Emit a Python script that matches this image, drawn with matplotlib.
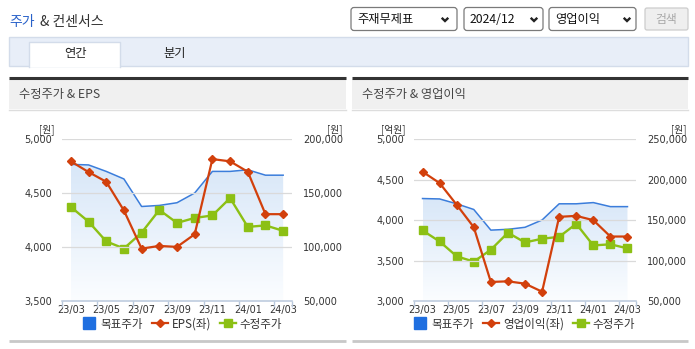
import matplotlib
matplotlib.use('Agg')
import matplotlib.pyplot as plt
import numpy as np
from matplotlib.patches import Rectangle, FancyBboxPatch, PathPatch
from matplotlib.path import Path
from matplotlib.lines import Line2D
from matplotlib.colors import LinearSegmentedColormap

plt.rcParams['font.family'] = ['Noto Sans CJK KR', 'DejaVu Sans']

# ---------------- data ----------------
months = ['23/03', '23/04', '23/05', '23/06', '23/07', '23/08', '23/09',
          '23/10', '23/11', '23/12', '24/01', '24/02', '24/03']
tick_labels = ['23/03', '23/05', '23/07', '23/09', '23/11', '24/01', '24/03']
target_price = [176500, 176000, 170000, 163000, 137500, 138500, 141000,
                150000, 170000, 170000, 171500, 166500, 166500]
adj_price = [137100, 123500, 105200, 98600, 113300, 134300, 122300,
             126900, 129200, 145300, 118600, 120000, 115000]
eps = [4793, 4694, 4604, 4338, 3985, 4010, 4001, 4118, 4814, 4793, 4697, 4304, 4304]
op_profit = [4596, 4456, 4188, 3911, 3235, 3243, 3214, 3115, 4039, 4051, 3998, 3796, 3796]

left_ticks_eps = [3500, 4000, 4500, 5000]
right_ticks_eps = [50000, 100000, 150000, 200000]
left_ticks_op = [3000, 3500, 4000, 4500, 5000]
right_ticks_op = [50000, 100000, 150000, 200000, 250000]

# ---------------- styles ----------------
W, H = 695, 349
C_BLUE = '#3b7ddb'
C_BLUE_SQ = '#1f6fe0'
C_RED = '#d2400c'
C_GREEN = '#8cc014'
C_TXT = '#333333'
NARROW = ['Liberation Sans Narrow', 'DejaVu Sans']

fig = plt.figure(figsize=(W / 100, H / 100), dpi=100)
bg = fig.add_axes([0, 0, 1, 1])
bg.set_xlim(0, W)
bg.set_ylim(H, 0)
bg.axis('off')


def ax_rect(x0, y0, x1, y1):
    return [x0 / W, 1 - y1 / H, (x1 - x0) / W, (y1 - y0) / H]


# ---------------- header ----------------
bg.text(9, 22, '주가', color='#2a62c9', fontsize=10, va='center', ha='left')
bg.text(40, 22, '& 컨센서스', color=C_TXT, fontsize=10, va='center', ha='left')


def dropdown(x0, x1, label, chev_x):
    bg.add_patch(FancyBboxPatch((x0, 7.5), x1 - x0, 23, boxstyle='round,pad=0,rounding_size=3',
                                facecolor='white', edgecolor='#7a7a7a', lw=0.9))
    bg.text(x0 + 6, 19.5, label, fontsize=8.8, color='#111111', va='center', ha='left')
    bg.plot([chev_x - 3.3, chev_x, chev_x + 3.3], [17.8, 21, 17.8], color='#222222', lw=1.7,
            solid_capstyle='butt', solid_joinstyle='miter')


dropdown(351, 457, '주재무제표', 445)
dropdown(464, 543, '2024/12', 534)
dropdown(549, 636, '영업이익', 627)
bg.add_patch(FancyBboxPatch((645, 8), 43, 22, boxstyle='round,pad=0,rounding_size=2',
                            facecolor='#efefef', edgecolor='#cccccc', lw=0.9))
bg.text(666.5, 19.5, '검색', fontsize=8.5, color='#a8a8a8', va='center', ha='center')

# tab bar
bg.add_patch(Rectangle((9, 37), 679, 29, facecolor='#e8eef8', edgecolor='#d3dcea', lw=1))
bg.add_patch(Rectangle((29, 42), 91, 25, facecolor='white', edgecolor='none'))
bg.plot([29, 29, 120, 120], [66.5, 42, 42, 66.5], color='#d3dcea', lw=1)
bg.text(75, 54, '연간', fontsize=8.8, color='#222222', va='center', ha='center')
bg.text(175, 54, '분기', fontsize=8.8, color='#222222', va='center', ha='center')

# panel headers
for (px0, px1, title) in [(9, 346, '수정주가 & EPS'), (352, 688, '수정주가 & 영업이익')]:
    bg.add_patch(Rectangle((px0, 79), px1 - px0, 30, facecolor='#f0f0f0', edgecolor='none'))
    bg.plot([px0, px1], [78, 78], color='#333333', lw=2.2, solid_capstyle='butt')
    bg.plot([px0, px1], [109.5, 109.5], color='#dddddd', lw=1)
    bg.text(px0 + 10, 94.5, title, fontsize=8.8, color='#444444', va='center', ha='left')
    bg.plot([px0, px1], [341, 341], color='#c8c8c8', lw=2, solid_capstyle='butt')

# ---------------- charts ----------------
grad_cmap = LinearSegmentedColormap.from_list('g', ['#fbfdff', '#d8e7f8'])


def draw_chart(rect, left_vals, left_ticks, right_ticks, left_name, unit_l, unit_r,
               unit_l_x, unit_r_x, leg_cx):
    x = np.arange(len(months))
    ax = fig.add_axes(ax_rect(*rect))
    ax2 = ax.twinx()
    ax.set_zorder(ax2.get_zorder() + 1)
    ax.patch.set_visible(False)
    ax2.patch.set_visible(False)

    ax.set_xlim(-0.5, len(months) - 0.5)
    ax.set_ylim(left_ticks[0], left_ticks[-1])
    ax2.set_ylim(right_ticks[0], right_ticks[-1])

    # gradient fill under target price
    ymin = right_ticks[0]
    verts = [(x[0], ymin)] + list(zip(x, target_price)) + [(x[-1], ymin), (x[0], ymin)]
    clip = PathPatch(Path(verts), facecolor='none', edgecolor='none', transform=ax2.transData)
    ax2.add_patch(clip)
    grad = np.linspace(0, 1, 256).reshape(-1, 1)
    im = ax2.imshow(grad, extent=[x[0], x[-1], ymin, max(target_price)], origin='lower',
                    aspect='auto', cmap=grad_cmap, zorder=1)
    im.set_clip_path(clip)
    ax.set_xlim(-0.5, len(months) - 0.5)
    ax2.set_ylim(right_ticks[0], right_ticks[-1])

    ax2.plot(x, target_price, color=C_BLUE, lw=1.1, zorder=3)
    ax2.plot(x, adj_price, color=C_GREEN, lw=1.7, marker='s', markersize=6.3, zorder=4)
    ax.plot(x, left_vals, color=C_RED, lw=1.6, marker='D', markersize=4.3, zorder=5)

    # grid
    for t in left_ticks[1:]:
        ax.axhline(t, color='#dadada', lw=0.9, zorder=0.5)

    for a in (ax, ax2):
        for s in ('top', 'left', 'right', 'bottom'):
            a.spines[s].set_visible(False)
    ax.spines['bottom'].set_visible(True)
    ax.spines['bottom'].set_color('#b9c8dc')
    ax.spines['bottom'].set_linewidth(1.1)

    ax.set_xticks(np.arange(0, len(months), 2))
    ax.set_xticklabels(tick_labels, fontsize=7, color=C_TXT, family=NARROW)
    ax.tick_params(axis='x', which='major', length=0, pad=3)
    minor = list(np.arange(-0.5, len(months), 2)) + [len(months) - 0.5]
    ax.set_xticks(minor, minor=True)
    ax.tick_params(axis='x', which='minor', length=4, color='#b9c8dc', width=1)

    ax.set_yticks(left_ticks)
    ax.set_yticklabels([f'{v:,}' for v in left_ticks], fontsize=7, color=C_TXT, family=NARROW)
    ax.tick_params(axis='y', length=0, pad=7)
    ax2.set_yticks(right_ticks)
    ax2.set_yticklabels([f'{v:,}' for v in right_ticks], fontsize=7, color=C_TXT, family=NARROW)
    ax2.tick_params(axis='y', length=0, pad=8)

    bg.text(unit_l_x, 130, unit_l, fontsize=7, color=C_TXT, ha='right', va='center')
    bg.text(unit_r_x, 130, unit_r, fontsize=7, color=C_TXT, ha='right', va='center')

    handles = [
        Line2D([], [], color=C_BLUE_SQ, marker='s', markersize=8, lw=0),
        Line2D([], [], color=C_RED, marker='D', markersize=4.3, lw=1.6),
        Line2D([], [], color=C_GREEN, marker='s', markersize=6, lw=1.7),
    ]
    ax.legend(handles, ['목표주가', left_name, '수정주가'], loc='center',
              bbox_to_anchor=(leg_cx, -0.142), ncol=3, frameon=False, fontsize=8.3,
              handlelength=1.4, handletextpad=0.3, columnspacing=0.8, borderpad=0,
              labelcolor=C_TXT)
    return ax, ax2


draw_chart((62, 139, 292, 301), eps, left_ticks_eps, right_ticks_eps, 'EPS(좌)',
           '[원]', '[원]', 54, 342, 0.52)
draw_chart((414, 139, 636, 301), op_profit, left_ticks_op, right_ticks_op, '영업이익(좌)',
           '[억원]', '[원]', 406, 686, 0.493)

fig.savefig('out.png', dpi=100)
